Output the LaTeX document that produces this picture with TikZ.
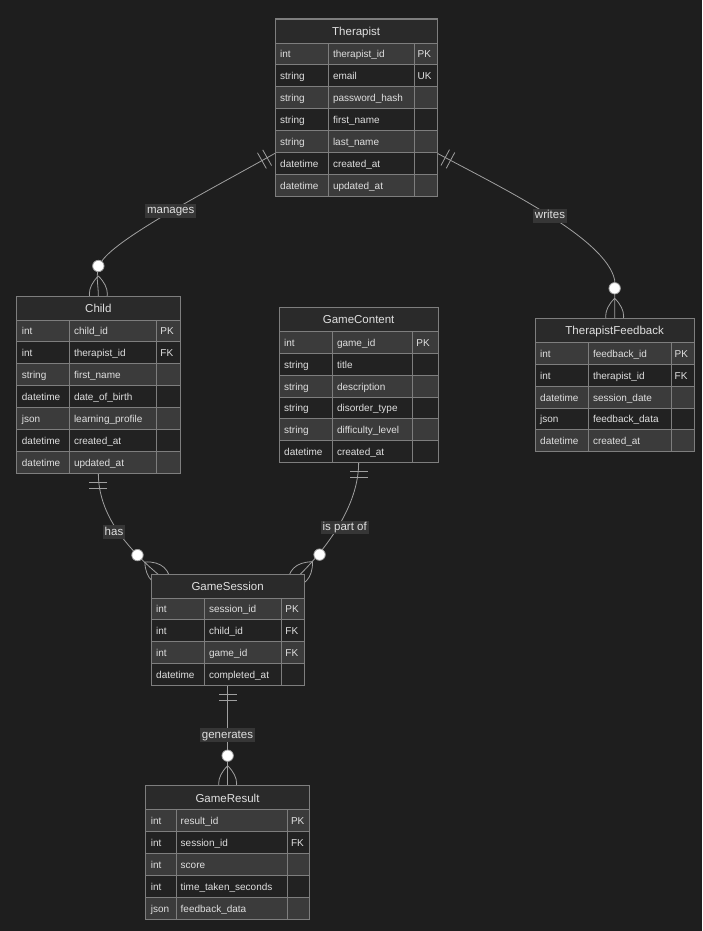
\documentclass[tikz,border=0pt]{standalone}
\usepackage{fontspec}
\setmainfont{Liberation Sans}
\usetikzlibrary{calc}
\definecolor{bgc}{HTML}{1E1E1E}
\definecolor{hdrc}{HTML}{2A2A2A}
\definecolor{oddc}{HTML}{3B3B3B}
\definecolor{evenc}{HTML}{222222}
\definecolor{bordc}{HTML}{7E7E7E}
\definecolor{edgec}{HTML}{A0A0A0}
\definecolor{txtc}{HTML}{E0E0E0}
\definecolor{lblbg}{HTML}{363636}
\pgfdeclarelayer{back}
\pgfdeclarelayer{edges}
\pgfsetlayers{back,edges,main}
\tikzset{
  cellline/.style={draw=bordc, line width=0.9pt},
  tableframe/.style={draw=bordc, line width=1pt, inner sep=0pt, outer sep=0pt, fill=none},
  hdrtext/.style={inner sep=0pt, text=txtc, font=\fontsize{11.5}{13}\selectfont, text height=8.3pt, text depth=2.4pt},
  rowtext/.style={anchor=west, inner sep=0pt, text=txtc, font=\fontsize{10}{12}\selectfont, text height=7.2pt, text depth=2pt},
  edge/.style={draw=edgec, line width=0.8pt},
  rel/.style={fill=lblbg, text=txtc, inner xsep=2pt, inner ysep=1.6pt, font=\fontsize{11.5}{13}\selectfont, text height=8.3pt, text depth=2.4pt},
  pics/onlyone/.style={code={\draw[edge] (9,-9)--(9,9) (15,-9)--(15,9);}},
  pics/zeromany/.style={code={
    \draw[edge] (-20,0) .. controls (-8,12) and (4,12) .. (16,0) .. controls (4,-12) and (-8,-12) .. (-20,0);
    \draw[edge, fill=white] (-30,0) circle[radius=5.7pt];
  }},
}
% #1 name #2 left #3 top #4 sep1 #5 sep2 #6 right #7 title #8 nrows #9 rows
\newcommand\ertable[9]{%
  \pgfmathsetmacro\ertot{24+#8*21.9}%
  \pgfmathsetmacro\erw{#6-#2}%
  \fill[hdrc] (#2,#3) rectangle (#6,#3+24);
  \draw[cellline] (#2,#3) rectangle (#6,#3+24);
  \node[hdrtext] (#1-title) at ({(#2+#6)/2},#3+13.6) {#7};
  \foreach[count=\i] \ty/\nm/\ky in {#9}{%
    \pgfmathsetmacro\ya{#3+24+(\i-1)*21.9}%
    \pgfmathsetmacro\yb{\ya+21.9}%
    \pgfmathsetmacro\ym{\ya+12.3}%
    \ifodd\i\def\rc{oddc}\else\def\rc{evenc}\fi
    \fill[\rc] (#2,\ya) rectangle (#6,\yb);
    \draw[cellline] (#2,\ya) rectangle (#4,\yb) (#4,\ya) rectangle (#5,\yb) (#5,\ya) rectangle (#6,\yb);
    \node[rowtext] (#1-ty\i) at (#2+5,\ym) {\ty};
    \node[rowtext] (#1-nm\i) at (#4+4.5,\ym) {\nm};
    \node[rowtext] (#1-ky\i) at (#5+3.5,\ym) {\ky};
  }%
  \node[tableframe, minimum width=\erw pt, minimum height=\ertot pt, anchor=north west] (#1) at (#2,#3) {};
}
\begin{document}
\begin{tikzpicture}[x=1pt,y=-1pt]
\useasboundingbox (0,0) rectangle (702,931);
\begin{pgfonlayer}{back}
\fill[bgc] (0,0) rectangle (702,931);
\end{pgfonlayer}

\ertable{therapist}{275}{19}{328.3}{414}{437.3}{Therapist}{7}{int/therapist\_id/PK, string/email/UK, string/password\_hash/{}, string/first\_name/{}, string/last\_name/{}, datetime/created\_at/{}, datetime/updated\_at/{}}
\ertable{child}{16.7}{296}{69.3}{156.7}{180}{Child}{7}{int/child\_id/PK, int/therapist\_id/FK, string/first\_name/{}, datetime/date\_of\_birth/{}, json/learning\_profile/{}, datetime/created\_at/{}, datetime/updated\_at/{}}
\ertable{gamecontent}{279}{307.3}{332.3}{412.7}{438.3}{GameContent}{6}{int/game\_id/PK, string/title/{}, string/description/{}, string/disorder\_type/{}, string/difficulty\_level/{}, datetime/created\_at/{}}
\ertable{feedback}{535}{318.3}{588.3}{671}{694.3}{TherapistFeedback}{5}{int/feedback\_id/PK, int/therapist\_id/FK, datetime/session\_date/{}, json/feedback\_data/{}, datetime/created\_at/{}}
\ertable{session}{151}{574}{204.3}{281.7}{304.3}{GameSession}{4}{int/session\_id/PK, int/child\_id/FK, int/game\_id/FK, datetime/completed\_at/{}}
\ertable{result}{145.7}{785.7}{176}{287.3}{309.3}{GameResult}{5}{int/result\_id/PK, int/session\_id/FK, int/score/{}, int/time\_taken\_seconds/{}, json/feedback\_data/{}}

\begin{pgfonlayer}{edges}
% manages
\coordinate (m1) at ($(therapist.north west)+(0,134.3)$);
\draw[edge] (m1) .. controls (210,190) and (112,240) .. (100,264) .. controls (95,274) and (child.north |- 0,284) .. (child.north);
\pic[rotate=-150.6] at (m1) {onlyone};
\pic[rotate=-90] at (child.north) {zeromany};
% writes
\coordinate (w1) at ($(therapist.north east)+(0,134.3)$);
\draw[edge] (w1) .. controls (500,187) and (606,238) .. (feedback.north |- 0,280) -- (feedback.north);
\pic[rotate=-28.3] at (w1) {onlyone};
\pic[rotate=-90] at (feedback.north) {zeromany};
% has
\coordinate (h2) at ($(session.north west)+(8.5,1.5)$);
\draw[edge] (child.south) .. controls ($(child.south)+(0,42)$) and (128,549) .. (h2);
\pic[rotate=-90] at (child.south) {onlyone};
\pic[rotate=-42.8] at (h2) {zeromany};
% is part of
\coordinate (p2) at ($(session.north west)+(147.5,2)$);
\draw[edge] (gamecontent.south) .. controls ($(gamecontent.south)+(0,42)$) and (328,547) .. (p2);
\pic[rotate=-90] at (gamecontent.south) {onlyone};
\pic[rotate=-134.6] at (p2) {zeromany};
% generates
\draw[edge] (session.south) -- (session.south |- result.north);
\pic[rotate=-90] at (session.south) {onlyone};
\pic[rotate=-90] at (session.south |- result.north) {zeromany};
\end{pgfonlayer}

\node[rel] (lmanages) at (170.7,211) {manages};
\node[rel] (lwrites) at (550,216) {writes};
\node[rel] (lhas) at (114,532.2) {has};
\node[rel] (lpart) at (344.7,527.5) {is part of};
\node[rel] (lgen) at (227.5,735.2) {generates};
\end{tikzpicture}
\end{document}
